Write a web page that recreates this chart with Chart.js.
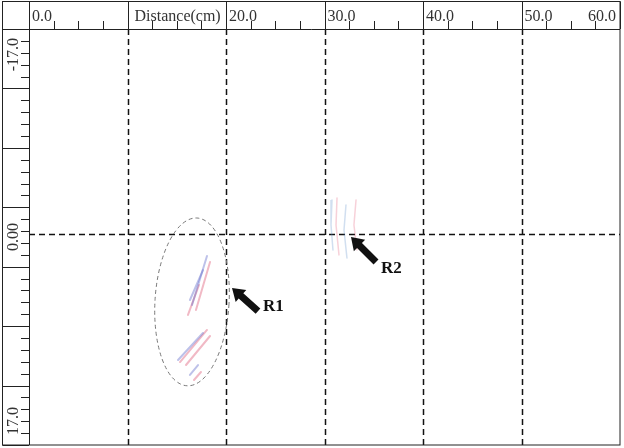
<!DOCTYPE html>
<html>
<head>
<meta charset="utf-8">
<script src="https://cdn.jsdelivr.net/npm/chart.js@4/dist/chart.umd.min.js"></script>
<style>
html, body { margin: 0; padding: 0; background: #fff; }
</style>
</head>
<body>
<canvas id="scan" width="624" height="448"></canvas>
<script>
// axis ranges and ticks
const xMin = 0, xMax = 60;
const yMin = -17.5, yMax = 17.5;
const xMajor = [0, 10, 20, 30, 40, 50, 60];
const xLabels = ["0.0", "Distance(cm)", "20.0", "30.0", "40.0", "50.0", "60.0"];
const yDividers = [-17.5, -12.5, -7.5, -2.5, 2.5, 7.5, 12.5, 17.5];
const yLabelValues = [-17, 0, 17];
const yLabels = ["-17.0", "0.00", "17.0"];

// reflection streaks (distance cm, depth)
const r1Blue = [
    [[18.07, 1.60], [16.55, 5.72]],
    [[17.66, 2.78], [16.34, 5.30]],
    [[17.66, 8.08], [15.13, 10.35]],
    [[17.16, 10.77], [16.34, 11.61]]
];
const r1Red = [
    [[18.38, 2.10], [16.95, 6.14]],
    [[17.26, 4.04], [16.14, 6.56]],
    [[18.07, 7.82], [15.33, 10.52]],
    [[18.38, 8.33], [15.94, 10.77]],
    [[17.46, 11.36], [16.75, 12.03]]
];
const r2Blue = [
    [[30.76, -3.11], [30.66, -1.01], [30.86, 1.09]],
    [[32.18, -2.69], [31.98, -0.59], [32.28, 1.77]]
];
const r2Red = [
    [[31.27, -3.28], [31.17, -1.01], [31.47, 1.51]],
    [[33.20, -3.11], [32.99, -1.01], [33.30, 1.09]]
];

// annotations
const r1Ellipse = { x: 16.55, y: 5.46, rx: 3.76, ry: 7.07 };
const arrows = [
    { label: "R1", tip: [20.61, 4.29], tail: [23.25, 6.23], text: [23.76, 6.23] },
    { label: "R2", tip: [32.69, 0.0], tail: [35.23, 2.10], text: [35.74, 3.03] }
];

function streakSets(list, color, width) {
    return list.map(function (line) {
        return {
            data: line.map(function (p) { return { x: p[0], y: p[1] }; }),
            showLine: true,
            pointRadius: 0,
            borderColor: color,
            borderWidth: width,
            borderCapStyle: "round",
            fill: false
        };
    });
}

let datasets = []
    .concat(streakSets(r1Blue, "rgba(90,100,200,0.4)", 2))
    .concat(streakSets(r1Red, "rgba(220,80,110,0.4)", 2))
    .concat(streakSets(r2Blue, "rgba(90,140,200,0.28)", 1.5))
    .concat(streakSets(r2Red, "rgba(225,90,120,0.28)", 1.5));

const labelFont = '16px "Liberation Serif", "Times New Roman", serif';

const frame = {
    id: "frame",
    beforeDatasetsDraw(chart) {
        const ctx = chart.ctx;
        const a = chart.chartArea;
        const xs = chart.scales.x, ys = chart.scales.y;
        ctx.save();
        ctx.strokeStyle = "#111";
        ctx.lineWidth = 1.5;
        ctx.setLineDash([6, 4]);
        for (let i = 1; i < xMajor.length - 1; i++) {
            const px = Math.round(xs.getPixelForValue(xMajor[i])) + 0.5;
            ctx.beginPath();
            ctx.moveTo(px, a.top);
            ctx.lineTo(px, a.bottom);
            ctx.stroke();
        }
        const py0 = Math.round(ys.getPixelForValue(0)) - 2.5;
        ctx.beginPath();
        ctx.moveTo(a.left, py0);
        ctx.lineTo(a.right, py0);
        ctx.stroke();

        // dashed ellipse round R1
        const ex = xs.getPixelForValue(r1Ellipse.x), ey = ys.getPixelForValue(r1Ellipse.y);
        const erx = Math.abs(xs.getPixelForValue(r1Ellipse.x + r1Ellipse.rx) - ex);
        const ery = Math.abs(ys.getPixelForValue(r1Ellipse.y + r1Ellipse.ry) - ey);
        ctx.strokeStyle = "#777";
        ctx.lineWidth = 1;
        ctx.setLineDash([4, 3]);
        ctx.beginPath();
        ctx.ellipse(ex, ey, erx, ery, 0.06, 0, Math.PI * 2);
        ctx.stroke();
        ctx.restore();
    },
    afterDraw(chart) {
        const ctx = chart.ctx;
        const a = chart.chartArea;
        const xs = chart.scales.x, ys = chart.scales.y;
        ctx.save();
        ctx.setLineDash([]);
        ctx.strokeStyle = "#222";
        ctx.lineWidth = 1;

        // outer frame and strip borders
        ctx.strokeRect(2.5, 1.5, a.right - 2.5, a.bottom - 1.5);
        ctx.beginPath();
        ctx.moveTo(2.5, a.top + 0.5);
        ctx.lineTo(a.right, a.top + 0.5);
        ctx.moveTo(a.left + 0.5, 1.5);
        ctx.lineTo(a.left + 0.5, a.bottom);
        ctx.stroke();

        // top axis: major dividers, minor ticks, labels
        ctx.beginPath();
        for (let v = xMin; v <= xMax; v += 2.5) {
            const px = Math.round(xs.getPixelForValue(v)) + 0.5;
            if (v % 10 === 0) {
                ctx.moveTo(px, 1.5);
                ctx.lineTo(px, a.top);
            } else {
                ctx.moveTo(px, a.top - 8);
                ctx.lineTo(px, a.top);
            }
        }
        // left axis: dividers and minor ticks
        for (let v = yMin; v <= yMax; v += 1) {
            const py = Math.round(ys.getPixelForValue(v)) + 0.5;
            if (yDividers.indexOf(v) >= 0) {
                ctx.moveTo(2.5, py);
                ctx.lineTo(a.left, py);
            } else {
                ctx.moveTo(a.left - 8, py);
                ctx.lineTo(a.left, py);
            }
        }
        ctx.stroke();

        ctx.fillStyle = "#333";
        ctx.font = labelFont;
        ctx.textBaseline = "alphabetic";
        xLabels.forEach(function (t, i) {
            const px = xs.getPixelForValue(xMajor[i]);
            if (i === xLabels.length - 1) {
                ctx.textAlign = "right";
                ctx.fillText(t, px - 4, 21);
            } else {
                ctx.textAlign = "left";
                ctx.fillText(t, px + (i === 1 ? 7 : 3), 21);
            }
        });

        yLabels.forEach(function (t, i) {
            const py = ys.getPixelForValue(yLabelValues[i]);
            ctx.save();
            ctx.translate(18, py);
            ctx.rotate(-Math.PI / 2);
            if (i === 0) {
                ctx.textAlign = "right";
                ctx.fillText(t, -3, 0);
            } else if (i === yLabels.length - 1) {
                ctx.textAlign = "left";
                ctx.fillText(t, 4, 0);
            } else {
                ctx.textAlign = "center";
                ctx.fillText(t, 0, 0);
            }
            ctx.restore();
        });

        // arrows and their labels
        arrows.forEach(function (ar) {
            const tx = xs.getPixelForValue(ar.tip[0]), ty = ys.getPixelForValue(ar.tip[1]);
            const bx = xs.getPixelForValue(ar.tail[0]), by = ys.getPixelForValue(ar.tail[1]);
            const ang = Math.atan2(ty - by, tx - bx);
            const len = Math.hypot(tx - bx, ty - by);
            ctx.save();
            ctx.translate(bx, by);
            ctx.rotate(ang);
            ctx.fillStyle = "#111";
            ctx.beginPath();
            ctx.moveTo(0, -3.5);
            ctx.lineTo(len - 12, -3.5);
            ctx.lineTo(len - 12, -8);
            ctx.lineTo(len, 0);
            ctx.lineTo(len - 12, 8);
            ctx.lineTo(len - 12, 3.5);
            ctx.lineTo(0, 3.5);
            ctx.closePath();
            ctx.fill();
            ctx.restore();

            ctx.fillStyle = "#111";
            ctx.font = 'bold 17px "Liberation Serif", "Times New Roman", serif';
            ctx.textAlign = "left";
            ctx.fillText(ar.label, xs.getPixelForValue(ar.text[0]), ys.getPixelForValue(ar.text[1]));
        });
        ctx.restore();
    }
};

new Chart(document.getElementById("scan").getContext("2d"), {
    type: "scatter",
    data: { datasets: datasets },
    options: {
        responsive: false,
        devicePixelRatio: 1,
        animation: false,
        layout: { padding: { left: 29, top: 29, right: 4, bottom: 3 } },
        plugins: { legend: { display: false }, tooltip: { enabled: false } },
        scales: {
            x: { type: "linear", min: xMin, max: xMax, display: false },
            y: { type: "linear", min: yMin, max: yMax, reverse: true, display: false }
        }
    },
    plugins: [frame]
});
</script>
</body>
</html>
